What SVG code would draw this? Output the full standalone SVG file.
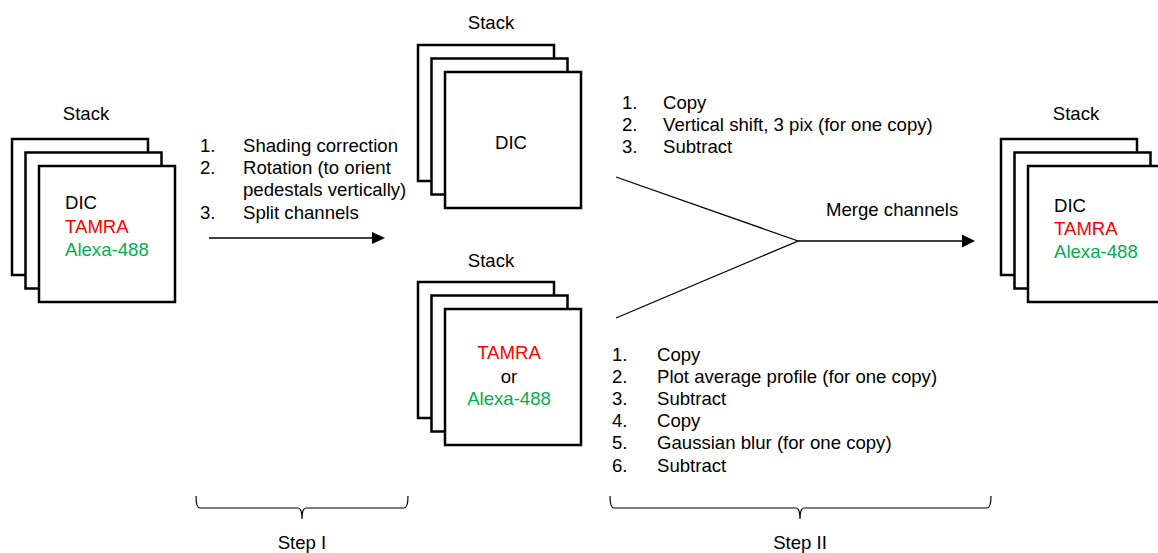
<svg xmlns="http://www.w3.org/2000/svg" width="1158" height="553" viewBox="0 0 1158 553">
<style>
text{font-family:"Liberation Sans",Arial,sans-serif;font-size:18.6px;fill:#000}
.red{fill:#ff0000}
.green{fill:#00b050}
.frame{fill:#fff;stroke:#000;stroke-width:2.5}
.conn{fill:none;stroke:#000;stroke-width:1.3}
.brace{fill:none;stroke:#000;stroke-width:1.2}
.mid{text-anchor:middle}
</style>
<defs>
<g id="stk">
<rect class="frame" x="0" y="0" width="136" height="136"/>
<rect class="frame" x="13.5" y="13.5" width="136" height="136"/>
<rect class="frame" x="27" y="27" width="136" height="136"/>
</g>
</defs>

<g id="stack-input">
<text x="86" y="120" class="mid">Stack</text>
<use href="#stk" x="12" y="139"/>
<text x="65" y="209">DIC</text>
<text x="65" y="233" class="red">TAMRA</text>
<text x="65" y="256" class="green">Alexa-488</text>
</g>

<g id="stack-dic">
<text x="491" y="29" class="mid">Stack</text>
<use href="#stk" x="418" y="45"/>
<text x="511" y="149" class="mid">DIC</text>
</g>

<g id="stack-fluor">
<text x="491" y="267" class="mid">Stack</text>
<use href="#stk" x="418" y="282"/>
<text x="509" y="359" class="mid red">TAMRA</text>
<text x="509" y="383" class="mid">or</text>
<text x="509" y="405" class="mid green">Alexa-488</text>
</g>

<g id="stack-output">
<text x="1076" y="120" class="mid">Stack</text>
<use href="#stk" x="1001" y="139"/>
<text x="1054" y="212">DIC</text>
<text x="1054" y="235" class="red">TAMRA</text>
<text x="1054" y="258" class="green">Alexa-488</text>
</g>

<g id="steps-I-text">
<text x="200" y="152">1.</text><text x="243" y="152">Shading correction</text>
<text x="200" y="174">2.</text><text x="243" y="174">Rotation (to orient</text>
<text x="243" y="196">pedestals vertically)</text>
<text x="200" y="219">3.</text><text x="243" y="219">Split channels</text>
</g>

<g id="steps-dic-text">
<text x="622" y="109">1.</text><text x="663" y="109">Copy</text>
<text x="622" y="131">2.</text><text x="663" y="131">Vertical shift, 3 pix (for one copy)</text>
<text x="622" y="153">3.</text><text x="663" y="153">Subtract</text>
</g>

<g id="steps-fluor-text">
<text x="612" y="361">1.</text><text x="657" y="361">Copy</text>
<text x="612" y="383">2.</text><text x="657" y="383">Plot average profile (for one copy)</text>
<text x="612" y="405">3.</text><text x="657" y="405">Subtract</text>
<text x="612" y="427">4.</text><text x="657" y="427">Copy</text>
<text x="612" y="449">5.</text><text x="657" y="449">Gaussian blur (for one copy)</text>
<text x="612" y="472">6.</text><text x="657" y="472">Subtract</text>
</g>

<g id="connectors">
<line class="conn" x1="209" y1="238" x2="373" y2="238"/>
<polygon points="372,232 385,238 372,244" fill="#000"/>
<polyline class="conn" points="616,177 798,241 616,318"/>
<line class="conn" x1="798" y1="241" x2="963" y2="241"/>
<polygon points="962,234.5 975,241 962,247.5" fill="#000"/>
<text x="826" y="216">Merge channels</text>
</g>

<g id="step-I">
<path class="brace" d="M196,496 Q196,508 200,508 L298,508 Q302,508 302,519 Q302,508 306,508 L404,508 Q408,508 408,496"/>
<text x="302" y="549" class="mid">Step I</text>
</g>

<g id="step-II">
<path class="brace" d="M610,496 Q610,508 614,508 L796,508 Q800,508 800,519 Q800,508 804,508 L987,508 Q991,508 991,496"/>
<text x="800" y="549" class="mid">Step II</text>
</g>
</svg>
